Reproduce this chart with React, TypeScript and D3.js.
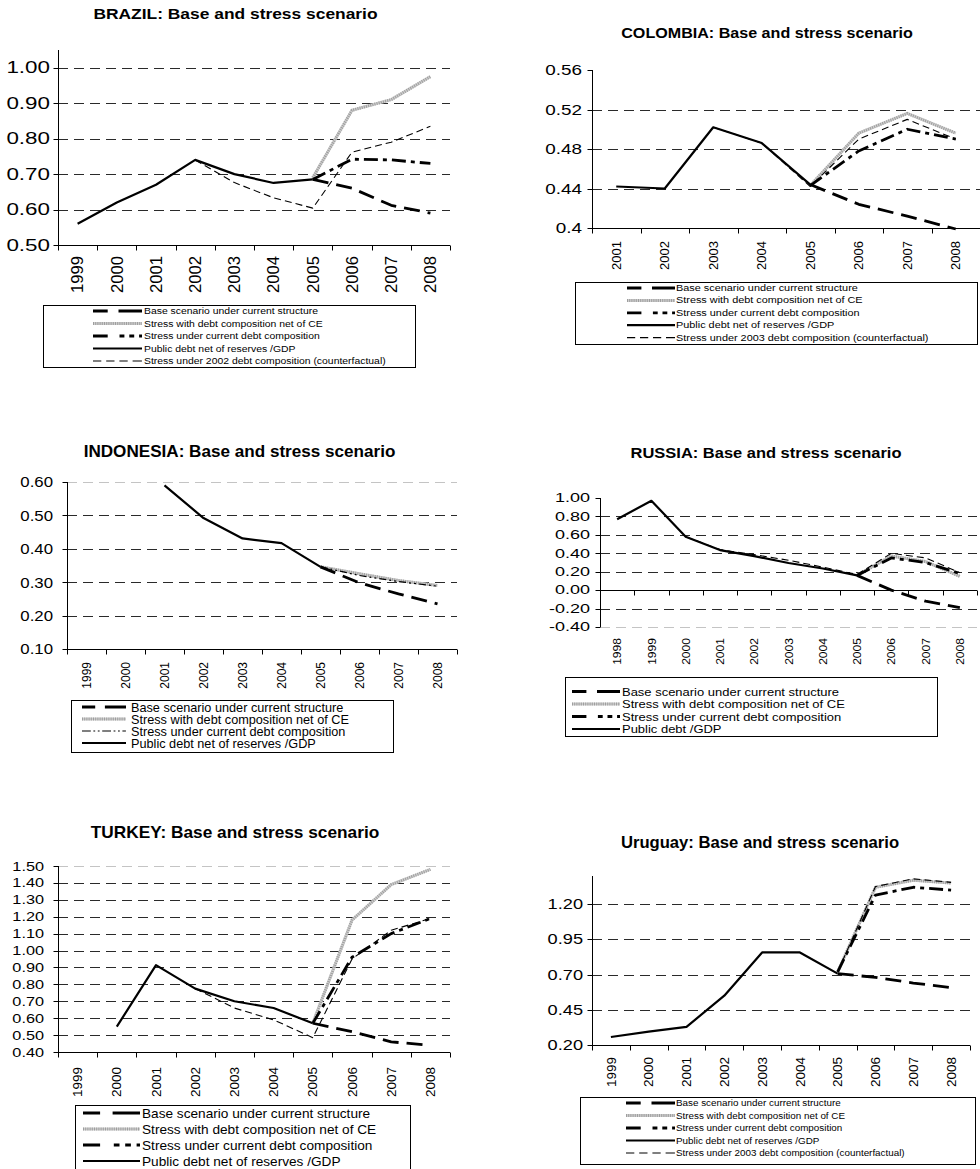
import React, { useEffect, useRef } from 'react';
import * as d3 from 'd3';

const FONT = '"Liberation Sans", Arial, Helvetica, sans-serif';

// ---------- legend texts
const legendBase = 'Base scenario under current structure';
const legendNetCE = 'Stress with debt composition net of CE';
const legendCurrent = 'Stress under current debt composition';
const legendPublic = 'Public debt net of reserves /GDP';
const legendPublicRu = 'Public debt /GDP';
const legend2002 = 'Stress under 2002 debt composition (counterfactual)';
const legend2003 = 'Stress under 2003 debt composition (counterfactual)';

// ---------- BRAZIL
const brazilYears = ['1999', '2000', '2001', '2002', '2003', '2004', '2005', '2006', '2007', '2008'];
const brazilPublicDebt = [0.56, 0.62, 0.67, 0.74, 0.70, 0.675, 0.685, null, null, null];
const brazilBase = [null, null, null, null, null, null, 0.685, 0.66, 0.612, 0.59];
const brazilStressNetCE = [null, null, null, null, null, null, 0.69, 0.88, 0.91, 0.975];
const brazilStressCurrent = [null, null, null, null, null, null, 0.685, 0.742, 0.74, 0.73];
const brazilStress2002 = [null, null, null, 0.74, 0.676, 0.633, 0.604, 0.762, 0.79, 0.835];
const brazilYTicks = [0.5, 0.6, 0.7, 0.8, 0.9, 1.0];
const brazilYLabels = ['0.50', '0.60', '0.70', '0.80', '0.90', '1.00'];
const brazilGrid = [0.6, 0.7, 0.8, 0.9, 1.0];

// ---------- COLOMBIA
const colombiaYears = ['2001', '2002', '2003', '2004', '2005', '2006', '2007', '2008'];
const colombiaPublicDebt = [0.442, 0.44, 0.502, 0.486, 0.444, null, null, null];
const colombiaBase = [null, null, null, null, 0.444, 0.424, 0.412, 0.399];
const colombiaStressNetCE = [null, null, null, null, 0.443, 0.496, 0.516, 0.496];
const colombiaStressCurrent = [null, null, null, null, 0.443, 0.478, 0.5, 0.49];
const colombiaStress2003 = [null, null, 0.502, 0.486, 0.442, 0.49, 0.51, 0.49];
const colombiaYTicks = [0.4, 0.44, 0.48, 0.52, 0.56];
const colombiaYLabels = ['0.4', '0.44', '0.48', '0.52', '0.56'];
const colombiaGrid = [0.44, 0.48, 0.52];

// ---------- INDONESIA
const indonesiaYears = ['1999', '2000', '2001', '2002', '2003', '2004', '2005', '2006', '2007', '2008'];
const indonesiaPublicDebt = [null, null, 0.59, 0.492, 0.431, 0.417, 0.346, null, null, null];
const indonesiaBase = [null, null, null, null, null, null, 0.346, 0.298, 0.265, 0.235];
const indonesiaStressNetCE = [null, null, null, null, null, null, 0.346, 0.325, 0.305, 0.29];
const indonesiaStressCurrent = [null, null, null, null, null, null, 0.346, 0.32, 0.302, 0.288];
const indonesiaYTicks = [0.1, 0.2, 0.3, 0.4, 0.5, 0.6];
const indonesiaYLabels = ['0.10', '0.20', '0.30', '0.40', '0.50', '0.60'];
const indonesiaGrid = [0.2, 0.3, 0.4, 0.5, 0.6];

// ---------- RUSSIA
const russiaYears = ['1998', '1999', '2000', '2001', '2002', '2003', '2004', '2005', '2006', '2007', '2008'];
const russiaPublicDebt = [0.77, 0.97, 0.58, 0.435, 0.37, 0.295, 0.235, 0.16, null, null, null];
const russiaBase = [null, null, null, null, null, null, null, 0.16, 0.0, -0.12, -0.19];
const russiaStressNetCE = [null, null, null, null, null, null, null, 0.16, 0.37, 0.31, 0.15];
const russiaStressCurrent = [null, null, null, null, null, null, null, 0.16, 0.35, 0.3, 0.18];
const russiaStressOther = [null, null, 0.58, 0.44, 0.385, 0.325, 0.25, 0.17, 0.4, 0.35, 0.19];
const russiaYTicks = [-0.4, -0.2, 0, 0.2, 0.4, 0.6, 0.8, 1.0];
const russiaYLabels = ['-0.40', '-0.20', '0.00', '0.20', '0.40', '0.60', '0.80', '1.00'];
const russiaGrid = [-0.4, -0.2, 0.2, 0.4, 0.6, 0.8];

// ---------- TURKEY
const turkeyYears = ['1999', '2000', '2001', '2002', '2003', '2004', '2005', '2006', '2007', '2008'];
const turkeyPublicDebt = [null, 0.55, 0.914, 0.775, 0.7, 0.66, 0.57, null, null, null];
const turkeyBase = [null, null, null, null, null, null, 0.57, 0.52, 0.46, 0.44];
const turkeyStressNetCE = [null, null, null, null, null, null, 0.57, 1.18, 1.39, 1.48];
const turkeyStressCurrent = [null, null, null, null, null, null, 0.57, 0.96, 1.1, 1.19];
const turkeyStressOther = [null, null, null, 0.775, 0.66, 0.59, 0.485, 0.95, 1.12, 1.19];
const turkeyYTicks = [0.4, 0.5, 0.6, 0.7, 0.8, 0.9, 1.0, 1.1, 1.2, 1.3, 1.4, 1.5];
const turkeyYLabels = ['0.40', '0.50', '0.60', '0.70', '0.80', '0.90', '1.00', '1.10', '1.20', '1.30', '1.40', '1.50'];
const turkeyGrid = [0.5, 0.6, 0.7, 0.8, 0.9, 1.0, 1.1, 1.2, 1.3, 1.4, 1.5];

// ---------- URUGUAY
const uruguayYears = ['1999', '2000', '2001', '2002', '2003', '2004', '2005', '2006', '2007', '2008'];
const uruguayPublicDebt = [0.257, 0.295, 0.329, 0.55, 0.857, 0.857, 0.707, null, null, null];
const uruguayBase = [null, null, null, null, null, null, 0.707, 0.68, 0.64, 0.607];
const uruguayStressNetCE = [null, null, null, null, null, null, 0.72, 1.32, 1.37, 1.35];
const uruguayStressCurrent = [null, null, null, null, null, null, 0.72, 1.265, 1.32, 1.3];
const uruguayStress2003 = [null, null, null, null, null, null, 0.72, 1.325, 1.38, 1.355];
const uruguayYTicks = [0.2, 0.45, 0.7, 0.95, 1.2];
const uruguayYLabels = ['0.20', '0.45', '0.70', '0.95', '1.20'];
const uruguayGrid = [0.45, 0.7, 0.95, 1.2];

type StyleKey = 'base' | 'netCE' | 'current' | 'currentThin' | 'public' | 'counter';

const STYLES: Record<StyleKey, { width: number; dash: string | null }> = {
  base: { width: 2.8, dash: '16 8' },
  netCE: { width: 3, dash: null },
  current: { width: 2.8, dash: '14 5 4 5' },
  currentThin: { width: 1.2, dash: '7 3 2 3 2 3' },
  public: { width: 2.2, dash: null },
  counter: { width: 1.1, dash: '7 4' },
};

// legend sample dash patterns, as fractions of sample length
const LEGEND_DASH: Record<StyleKey, number[] | null> = {
  base: [0.3, 0.22, 0.48],
  netCE: null,
  current: [0.3, 0.24, 0.1, 0.1, 0.1, 0.1, 0.06],
  currentThin: [0.2, 0.06, 0.04, 0.06, 0.04, 0.06, 0.2, 0.06, 0.04, 0.06, 0.04, 0.06, 0.08],
  public: null,
  counter: [0.17, 0.1, 0.17, 0.1, 0.17, 0.1, 0.19],
};

interface Series { values: (number | null)[]; style: StyleKey }
interface LegendItem { label: string; style: StyleKey }
interface Panel {
  title: string; titleX: number; titleY: number; titleSize: number; titleSx: number;
  years: string[]; x0: number; x1: number;
  yDomain: [number, number]; yRange: [number, number];
  yTicks: number[]; yLabels: string[]; grid: number[]; lightGrid: number[];
  yLabelRight: number; yLabelSize: number; yLabelSx: number;
  xAxisAt: number; xLabelTop: number; xLabelSize: number; xLabelSx: number;
  series: Series[];
  legend: {
    box: [number, number, number, number]; rowY: number; rowStep: number;
    sample: [number, number]; textX: number; size: number; sx: number;
    items: LegendItem[];
  };
}

const PANELS: Panel[] = [
  {
    title: 'BRAZIL: Base and stress scenario', titleX: 235.5, titleY: 18.5, titleSize: 15, titleSx: 1.16,
    years: brazilYears, x0: 58, x1: 450, yDomain: [0.5, 1.05], yRange: [245, 50],
    yTicks: brazilYTicks, yLabels: brazilYLabels, grid: brazilGrid, lightGrid: [],
    yLabelRight: 50, yLabelSize: 16, yLabelSx: 1.4,
    xAxisAt: 0.5, xLabelTop: 256, xLabelSize: 16, xLabelSx: 1.04,
    series: [
      { values: brazilStressNetCE, style: 'netCE' },
      { values: brazilStress2002, style: 'counter' },
      { values: brazilStressCurrent, style: 'current' },
      { values: brazilBase, style: 'base' },
      { values: brazilPublicDebt, style: 'public' },
    ],
    legend: {
      box: [43, 305, 415, 367], rowY: 311, rowStep: 12.5, sample: [93, 142], textX: 144, size: 9.3, sx: 1.12,
      items: [
        { label: legendBase, style: 'base' },
        { label: legendNetCE, style: 'netCE' },
        { label: legendCurrent, style: 'current' },
        { label: legendPublic, style: 'public' },
        { label: legend2002, style: 'counter' },
      ],
    },
  },
  {
    title: 'COLOMBIA: Base and stress scenario', titleX: 767, titleY: 38.3, titleSize: 14, titleSx: 1.15,
    years: colombiaYears, x0: 592, x1: 980, yDomain: [0.4, 0.56], yRange: [228, 70],
    yTicks: colombiaYTicks, yLabels: colombiaYLabels, grid: colombiaGrid, lightGrid: [],
    yLabelRight: 582, yLabelSize: 14, yLabelSx: 1.35,
    xAxisAt: 0.4, xLabelTop: 241, xLabelSize: 13, xLabelSx: 1.0,
    series: [
      { values: colombiaStressNetCE, style: 'netCE' },
      { values: colombiaStress2003, style: 'counter' },
      { values: colombiaStressCurrent, style: 'current' },
      { values: colombiaBase, style: 'base' },
      { values: colombiaPublicDebt, style: 'public' },
    ],
    legend: {
      box: [575, 282, 977, 344], rowY: 288, rowStep: 12.4, sample: [627, 675], textX: 676, size: 8.5, sx: 1.28,
      items: [
        { label: legendBase, style: 'base' },
        { label: legendNetCE, style: 'netCE' },
        { label: legendCurrent, style: 'current' },
        { label: legendPublic, style: 'public' },
        { label: legend2003, style: 'counter' },
      ],
    },
  },
  {
    title: 'INDONESIA: Base and stress scenario', titleX: 239.5, titleY: 456.7, titleSize: 16, titleSx: 1.07,
    years: indonesiaYears, x0: 67, x1: 457, yDomain: [0.1, 0.6], yRange: [649, 482],
    yTicks: indonesiaYTicks, yLabels: indonesiaYLabels, grid: indonesiaGrid, lightGrid: [0.6],
    yLabelRight: 53, yLabelSize: 15, yLabelSx: 1.12,
    xAxisAt: 0.1, xLabelTop: 662, xLabelSize: 12, xLabelSx: 1.0,
    series: [
      { values: indonesiaStressNetCE, style: 'netCE' },
      { values: indonesiaStressCurrent, style: 'currentThin' },
      { values: indonesiaBase, style: 'base' },
      { values: indonesiaPublicDebt, style: 'public' },
    ],
    legend: {
      box: [71, 700, 393, 752], rowY: 707, rowStep: 12, sample: [82, 126], textX: 131, size: 12.7, sx: 1.0,
      items: [
        { label: legendBase, style: 'base' },
        { label: legendNetCE, style: 'netCE' },
        { label: legendCurrent, style: 'currentThin' },
        { label: legendPublic, style: 'public' },
      ],
    },
  },
  {
    title: 'RUSSIA: Base and stress scenario', titleX: 766, titleY: 458, titleSize: 15.4, titleSx: 1.07,
    years: russiaYears, x0: 600, x1: 977, yDomain: [-0.4, 1.0], yRange: [627, 498],
    yTicks: russiaYTicks, yLabels: russiaYLabels, grid: russiaGrid, lightGrid: [-0.4],
    yLabelRight: 590, yLabelSize: 12, yLabelSx: 1.5,
    xAxisAt: 0, xLabelTop: 638, xLabelSize: 11.5, xLabelSx: 1.05,
    series: [
      { values: russiaStressNetCE, style: 'netCE' },
      { values: russiaStressOther, style: 'counter' },
      { values: russiaStressCurrent, style: 'current' },
      { values: russiaBase, style: 'base' },
      { values: russiaPublicDebt, style: 'public' },
    ],
    legend: {
      box: [565, 677, 937, 736], rowY: 691.5, rowStep: 12.5, sample: [572, 620], textX: 622, size: 11.6, sx: 1.12,
      items: [
        { label: legendBase, style: 'base' },
        { label: legendNetCE, style: 'netCE' },
        { label: legendCurrent, style: 'current' },
        { label: legendPublicRu, style: 'public' },
      ],
    },
  },
  {
    title: 'TURKEY: Base and stress scenario', titleX: 235, titleY: 838, titleSize: 16, titleSx: 1.08,
    years: turkeyYears, x0: 58, x1: 450, yDomain: [0.4, 1.5], yRange: [1052, 866],
    yTicks: turkeyYTicks, yLabels: turkeyYLabels, grid: turkeyGrid, lightGrid: [1.5],
    yLabelRight: 44, yLabelSize: 12.6, yLabelSx: 1.29,
    xAxisAt: 0.4, xLabelTop: 1067, xLabelSize: 12.5, xLabelSx: 1.08,
    series: [
      { values: turkeyStressNetCE, style: 'netCE' },
      { values: turkeyStressOther, style: 'counter' },
      { values: turkeyStressCurrent, style: 'current' },
      { values: turkeyBase, style: 'base' },
      { values: turkeyPublicDebt, style: 'public' },
    ],
    legend: {
      box: [75, 1105, 410, 1175], rowY: 1113, rowStep: 16, sample: [83, 140], textX: 142, size: 13, sx: 1.05,
      items: [
        { label: legendBase, style: 'base' },
        { label: legendNetCE, style: 'netCE' },
        { label: legendCurrent, style: 'current' },
        { label: legendPublic, style: 'public' },
      ],
    },
  },
  {
    title: 'Uruguay: Base and stress scenario', titleX: 760, titleY: 848, titleSize: 16, titleSx: 1.04,
    years: uruguayYears, x0: 592, x1: 970, yDomain: [0.2, 1.4], yRange: [1045, 876],
    yTicks: uruguayYTicks, yLabels: uruguayYLabels, grid: uruguayGrid, lightGrid: [],
    yLabelRight: 583, yLabelSize: 14, yLabelSx: 1.3,
    xAxisAt: 0.2, xLabelTop: 1057, xLabelSize: 13, xLabelSx: 1.04,
    series: [
      { values: uruguayStressNetCE, style: 'netCE' },
      { values: uruguayStress2003, style: 'counter' },
      { values: uruguayStressCurrent, style: 'current' },
      { values: uruguayBase, style: 'base' },
      { values: uruguayPublicDebt, style: 'public' },
    ],
    legend: {
      box: [580, 1097, 975, 1164], rowY: 1103, rowStep: 12.5, sample: [626, 675], textX: 676, size: 8.8, sx: 1.12,
      items: [
        { label: legendBase, style: 'base' },
        { label: legendNetCE, style: 'netCE' },
        { label: legendCurrent, style: 'current' },
        { label: legendPublic, style: 'public' },
        { label: legend2003, style: 'counter' },
      ],
    },
  },
];

type Sel = d3.Selection<SVGGElement, unknown, null, undefined>;

// text with a horizontal stretch (the scanned charts use widened glyphs)
function addText(g: Sel, x: number, y: number, str: string, size: number, sx: number,
  anchor: string, opts: { bold?: boolean; rotate?: number } = {}) {
  g.append('text')
    .attr('transform', `translate(${x},${y}) rotate(${opts.rotate ?? 0}) scale(${sx},1)`)
    .attr('text-anchor', anchor)
    .style('font-family', FONT)
    .style('font-size', `${size}px`)
    .style('font-weight', opts.bold ? 'bold' : 'normal')
    .style('fill', '#000')
    .text(str);
}

// draws a path in a given style (grey textured line is two strokes)
function strokePath(g: Sel, d: string, style: StyleKey, dash?: string | null) {
  if (style === 'netCE') {
    g.append('path').attr('d', d).attr('fill', 'none').attr('stroke', '#cfcfcf')
      .attr('stroke-width', 3).attr('stroke-linejoin', 'round');
    g.append('path').attr('d', d).attr('fill', 'none').attr('stroke', '#9e9e9e')
      .attr('stroke-width', 3).attr('stroke-dasharray', '1 1.2');
    return;
  }
  const st = STYLES[style];
  const p = g.append('path').attr('d', d).attr('fill', 'none').attr('stroke', '#000')
    .attr('stroke-width', st.width).attr('stroke-linejoin', 'round');
  const da = dash === undefined ? st.dash : dash;
  if (da) p.attr('stroke-dasharray', da);
}

function drawPanel(svg: d3.Selection<SVGSVGElement, unknown, null, undefined>, p: Panel) {
  const g = svg.append('g') as unknown as Sel;
  const x = d3.scaleBand<string>().domain(p.years).range([p.x0, p.x1]);
  const y = d3.scaleLinear().domain(p.yDomain).range(p.yRange);
  const cx = (yr: string) => (x(yr) as number) + x.bandwidth() / 2;

  // title
  addText(g, p.titleX, p.titleY, p.title, p.titleSize, p.titleSx, 'middle', { bold: true });

  // grid
  p.grid.forEach(v => {
    g.append('line')
      .attr('x1', p.x0).attr('x2', p.x1)
      .attr('y1', Math.round(y(v)) + 0.5).attr('y2', Math.round(y(v)) + 0.5)
      .attr('stroke', p.lightGrid.includes(v) ? '#c4c4c4' : '#2a2a2a')
      .attr('stroke-width', 1)
      .attr('stroke-dasharray', '10 6');
  });

  // y axis
  const ax = Math.round(p.x0) + 0.5;
  g.append('line').attr('x1', ax).attr('x2', ax)
    .attr('y1', p.yRange[0]).attr('y2', p.yRange[1]).attr('stroke', '#000');
  p.yTicks.forEach((v, i) => {
    const ty = Math.round(y(v)) + 0.5;
    g.append('line').attr('x1', ax - 5).attr('x2', ax).attr('y1', ty).attr('y2', ty).attr('stroke', '#000');
    addText(g, p.yLabelRight, y(v) + p.yLabelSize * 0.36, p.yLabels[i], p.yLabelSize, p.yLabelSx, 'end');
  });

  // x axis
  const xa = Math.round(y(p.xAxisAt)) + 0.5;
  g.append('line').attr('x1', p.x0).attr('x2', p.x1).attr('y1', xa).attr('y2', xa).attr('stroke', '#000');
  const bounds = [...p.years.map(yr => x(yr) as number), p.x1];
  bounds.forEach(b => {
    const bx = Math.round(b) + 0.5;
    g.append('line').attr('x1', bx).attr('x2', bx).attr('y1', xa).attr('y2', xa + 5).attr('stroke', '#000');
  });
  p.years.forEach(yr => {
    addText(g, cx(yr) + p.xLabelSize * 0.36, p.xLabelTop, yr, p.xLabelSize, p.xLabelSx, 'end', { rotate: -90 });
  });

  // series
  p.series.forEach(s => {
    const pts: [string, number | null][] = p.years.map((yr, i) => [yr, s.values[i]]);
    const line = d3.line<[string, number | null]>()
      .defined(d => d[1] != null)
      .x(d => cx(d[0]))
      .y(d => y(d[1] as number));
    strokePath(g, line(pts) || '', s.style);
  });

  // legend
  const L = p.legend;
  const [bx0, by0, bx1, by1] = L.box;
  g.append('rect').attr('x', bx0 + 0.5).attr('y', by0 + 0.5)
    .attr('width', bx1 - bx0).attr('height', by1 - by0)
    .attr('fill', '#fff').attr('stroke', '#000').attr('stroke-width', 1);
  L.items.forEach((it, i) => {
    const ry = L.rowY + i * L.rowStep;
    const len = L.sample[1] - L.sample[0];
    const fr = LEGEND_DASH[it.style];
    const dash = fr ? fr.map(f => (f * len).toFixed(1)).join(' ') : null;
    strokePath(g, `M${L.sample[0]},${ry}H${L.sample[1]}`, it.style, dash);
    addText(g, L.textX, ry + L.size * 0.36, it.label, L.size, L.sx, 'start');
  });
}

const App: React.FC = () => {
  const svgRef = useRef<SVGSVGElement>(null);

  useEffect(() => {
    if (!svgRef.current) return;
    const svg = d3.select(svgRef.current);
    svg.selectAll('*').remove();
    svg.append('rect').attr('width', 980).attr('height', 1169).attr('fill', '#fff');
    PANELS.forEach(p => drawPanel(svg, p));
  }, []);

  return (
    <svg
      ref={svgRef}
      width={980}
      height={1169}
      style={{ position: 'absolute', left: 0, top: 0, display: 'block' }}
    />
  );
};

export default App;
